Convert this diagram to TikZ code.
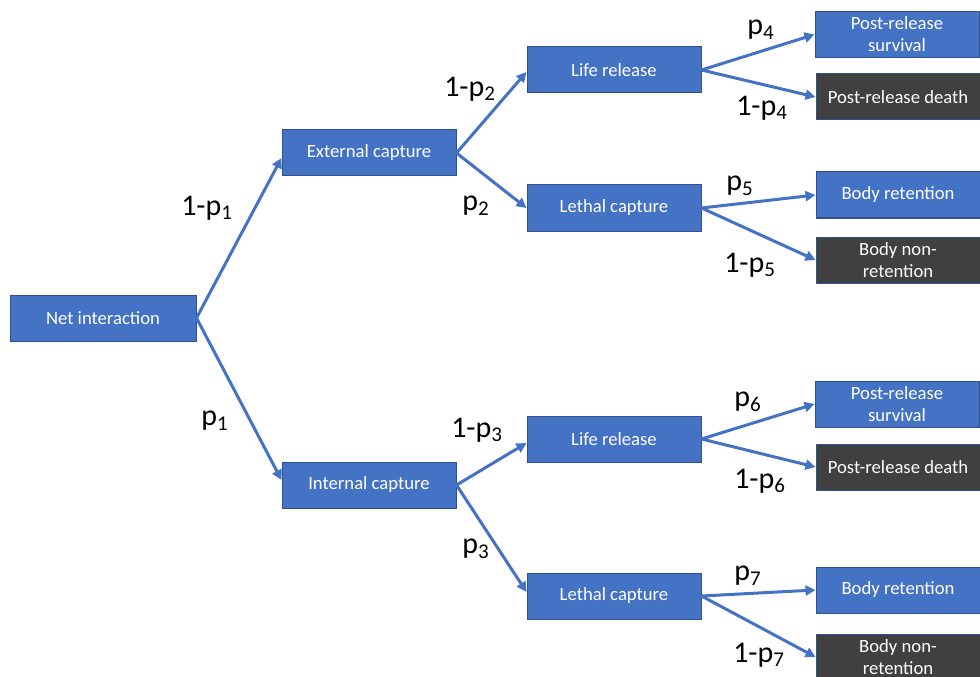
\documentclass[tikz,border=0pt]{standalone}
\usepackage{fontspec}
\setmainfont{Carlito}
\usepackage{tikz}
\usetikzlibrary{arrows.meta}

\definecolor{officeblue}{HTML}{4472C4}
\definecolor{boxline}{HTML}{2F528F}
\definecolor{darkbox}{HTML}{404040}
\newcommand{\pr}[1]{p\textsubscript{#1}}

\begin{document}
\begin{tikzpicture}[x=0.75pt, y=-0.75pt,
    stage/.style={draw=boxline, line width=0.75pt, fill=officeblue, text=white,
        minimum height=34.5pt, inner sep=0pt, align=center,
        font=\fontsize{14}{16.5}\selectfont},
    endbox/.style={stage, minimum width=123pt},
    deadbox/.style={endbox, fill=darkbox},
    arr/.style={-{Triangle[length=7.5pt,width=7.5pt]}, officeblue, line width=2.25pt},
    prob/.style={font=\fontsize{22.5}{26}\selectfont, inner sep=0pt}]
    \useasboundingbox (0,0) rectangle (980,677);
    \clip (0,0) rectangle (980,677);
    % Root and first split
    \node[stage, minimum width=139.5pt] (net) at (103,318) {Net interaction};
    \node[stage, minimum width=130.5pt] (ext) at (369,153) {External capture};
    \node[stage, minimum width=130.5pt] (int) at (369,485) {Internal capture};
    % Second split
    \node[stage, minimum width=130.5pt] (liveA) at (614,70) {Life release};
    \node[stage, minimum width=130.5pt] (lethA) at (614,208) {Lethal capture};
    \node[stage, minimum width=130.5pt] (liveB) at (614,439) {Life release};
    \node[stage, minimum width=130.5pt] (lethB) at (614,596) {Lethal capture};
    % Outcomes
    \node[endbox] (survA) at (897,34.5) {Post-release\\survival};
    \node[deadbox] (deathA) at (898,97) {Post-release death};
    \node[endbox] (keepA) at (898,195) {Body retention};
    \node[deadbox] (lostA) at (898,260) {Body non-\\retention};
    \node[endbox] (survB) at (897,404) {Post-release\\survival};
    \node[deadbox] (deathB) at (898,467) {Post-release death};
    \node[endbox] (keepB) at (898,590) {Body retention};
    \node[deadbox] (lostB) at (898,657) {Body non-\\retention};
    % Branches
    \draw[arr] (net.east) -- ([yshift=-3.75pt]ext.west);
    \draw[arr] (net.east) -- ([yshift=3.75pt]int.west);
    \draw[arr] (ext.east) -- ([yshift=-1.5pt]liveA.west);
    \draw[arr] (ext.east) -- (lethA.west);
    \draw[arr] (int.east) -- ([yshift=-3pt]liveB.west);
    \draw[arr] (int.east) -- ([yshift=3pt]lethB.west);
    \draw[arr] (liveA.east) -- (survA.west);
    \draw[arr] (liveA.east) -- (deathA.west);
    \draw[arr] (lethA.east) -- (keepA.west);
    \draw[arr] (lethA.east) -- (lostA.west);
    \draw[arr] (liveB.east) -- (survB.west);
    \draw[arr] (liveB.east) -- (deathB.west);
    \draw[arr] (lethB.east) -- (keepB.west);
    \draw[arr] (lethB.east) -- (lostB.west);
    % Probabilities
    \node[prob] (q1) at (207,208) {1-\pr{1}};
    \node[prob] (r1) at (215,421) {\pr{1}};
    \node[prob] (q2) at (470,89) {1-\pr{2}};
    \node[prob] (r2) at (476,206) {\pr{2}};
    \node[prob] (q3) at (477,430) {1-\pr{3}};
    \node[prob] (r3) at (476,549) {\pr{3}};
    \node[prob] (r4) at (761,30) {\pr{4}};
    \node[prob] (q4) at (762,108) {1-\pr{4}};
    \node[prob] (r5) at (740,186) {\pr{5}};
    \node[prob] (q5) at (750,265) {1-\pr{5}};
    \node[prob] (r6) at (748,402) {\pr{6}};
    \node[prob] (q6) at (760,481) {1-\pr{6}};
    \node[prob] (r7) at (748,576) {\pr{7}};
    \node[prob] (q7) at (759,655) {1-\pr{7}};
\end{tikzpicture}
\end{document}
